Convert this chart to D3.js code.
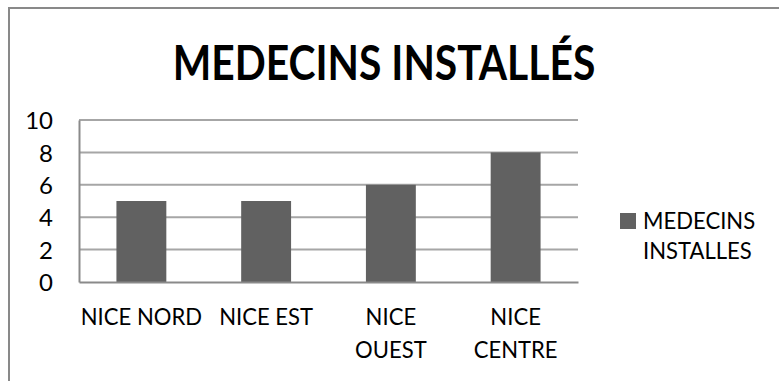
<!DOCTYPE html>
<html>
<head>
<meta charset="utf-8">
<script src="https://cdn.jsdelivr.net/npm/d3@7"></script>
<style>
  html, body { margin: 0; padding: 0; background: #fff; }
  svg { display: block; }
  text { font-family: Lato, "Open Sans", sans-serif; fill: #000; }
</style>
</head>
<body>
<svg id="chart" width="779" height="381"></svg>
<script>
// Secteurs et nombre de médecins installés
const categories = ["NICE NORD", "NICE EST", "NICE OUEST", "NICE CENTRE"];
const categoryLines = [["NICE NORD"], ["NICE EST"], ["NICE", "OUEST"], ["NICE", "CENTRE"]];
const medecins = [5, 5, 6, 8];
const yTicks = [0, 2, 4, 6, 8, 10];
const seriesName = ["MEDECINS", "INSTALLES"];
const title = "MEDECINS INSTALLÉS";

const svg = d3.select("#chart");
const titleCondense = 0.85;
const labelCondense = 0.92;
const labelSize = 24;

// outer frame (runs off the right and bottom edges)
svg.append("rect")
  .attr("x", 9).attr("y", 8)
  .attr("width", 800).attr("height", 400)
  .attr("fill", "#fff")
  .attr("stroke", "#898989")
  .attr("stroke-width", 2);

const plot = { left: 79, right: 578, top: 120, bottom: 282 };

const x = d3.scaleBand()
  .domain(categories)
  .range([plot.left, plot.right])
  .paddingInner(0.6)
  .paddingOuter(0.3);

const y = d3.scaleLinear()
  .domain([0, 10])
  .range([plot.bottom, plot.top]);

// title
svg.append("text")
  .attr("text-anchor", "middle")
  .attr("font-size", 48)
  .attr("font-weight", "bold")
  .attr("transform", `translate(384,80) scale(${titleCondense},1)`)
  .text(title);

// gridlines
svg.append("g")
  .selectAll("line")
  .data(yTicks.filter(d => d > 0))
  .join("line")
  .attr("x1", plot.left).attr("x2", plot.right)
  .attr("y1", d => y(d)).attr("y2", d => y(d))
  .attr("stroke", "#a6a6a6")
  .attr("stroke-width", 2);

// y axis
const yAxis = svg.append("g")
  .attr("transform", `translate(${plot.left},0)`)
  .call(d3.axisLeft(y).tickValues(yTicks).tickSize(0).tickPadding(26));
yAxis.select(".domain").attr("stroke", "#8a8a8a").attr("stroke-width", 2);
yAxis.selectAll("text")
  .attr("font-size", labelSize)
  .attr("font-family", "Lato, 'Open Sans', sans-serif")
  .attr("fill", "#000")
  .attr("dy", "0.36em");

// bars
svg.append("g")
  .selectAll("rect")
  .data(medecins)
  .join("rect")
  .attr("x", (d, i) => x(categories[i]))
  .attr("width", x.bandwidth())
  .attr("y", d => y(d))
  .attr("height", d => y(0) - y(d))
  .attr("fill", "#616161");

// x axis line
const xAxis = svg.append("g")
  .attr("transform", `translate(0,${plot.bottom})`)
  .call(d3.axisBottom(x).tickSize(0).tickFormat(""));
xAxis.select(".domain").attr("stroke", "#8a8a8a").attr("stroke-width", 2);

// category labels
const catG = svg.append("g");
categories.forEach((c, i) => {
  const cx = x(c) + x.bandwidth() / 2;
  const txt = catG.append("text")
    .attr("text-anchor", "middle")
    .attr("font-size", labelSize)
    .attr("transform", `translate(${cx},325) scale(${labelCondense},1)`);
  categoryLines[i].forEach((line, j) => {
    txt.append("tspan").attr("x", 0).attr("y", j * 33).text(line);
  });
});

// legend
const leg = svg.append("g");
leg.append("rect")
  .attr("x", 620).attr("y", 213)
  .attr("width", 16).attr("height", 16)
  .attr("fill", "#616161");
seriesName.forEach((line, j) => {
  leg.append("text")
    .attr("font-size", labelSize)
    .attr("transform", `translate(643,${229 + j * 30}) scale(${labelCondense},1)`)
    .text(line);
});
</script>
</body>
</html>
